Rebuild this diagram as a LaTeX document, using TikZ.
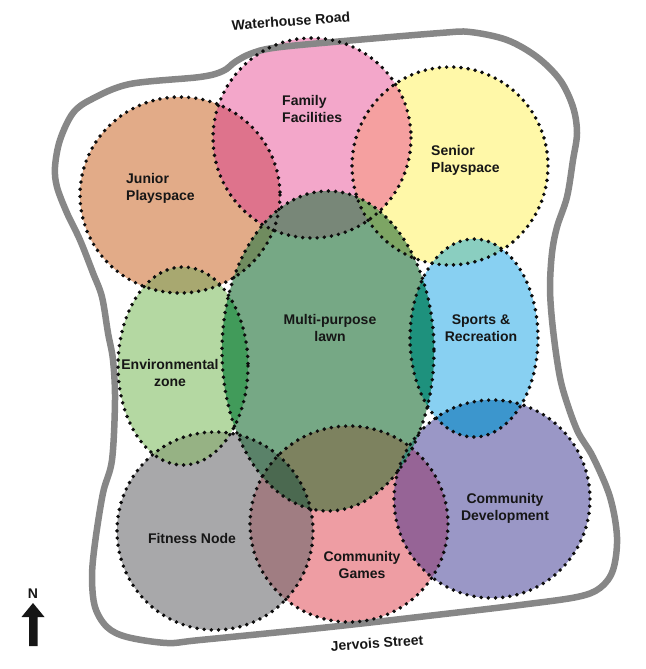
\documentclass[tikz,border=0pt]{standalone}
\usepackage{fontspec}
\setmainfont{Liberation Sans}
\definecolor{cJunior}{RGB}{226,171,136}
\definecolor{cFamily}{RGB}{243,167,202}
\definecolor{cSenior}{RGB}{255,248,168}
\definecolor{cLawn}{RGB}{118,168,133}
\definecolor{cEnv}{RGB}{180,216,162}
\definecolor{cSports}{RGB}{136,208,242}
\definecolor{cFitness}{RGB}{168,168,170}
\definecolor{cGames}{RGB}{238,157,163}
\definecolor{cCommDev}{RGB}{154,151,198}
\definecolor{oJF}{RGB}{222,115,140}
\definecolor{oFS}{RGB}{245,160,160}
\definecolor{oJE}{RGB}{168,168,112}
\definecolor{oJL}{RGB}{112,140,95}
\definecolor{oFL}{RGB}{120,135,120}
\definecolor{oSL}{RGB}{125,165,100}
\definecolor{oSSp}{RGB}{138,206,192}
\definecolor{oEL}{RGB}{65,155,90}
\definecolor{oEF}{RGB}{150,178,132}
\definecolor{oSpL}{RGB}{30,145,125}
\definecolor{oSpC}{RGB}{60,150,205}
\definecolor{oFiL}{RGB}{90,130,105}
\definecolor{oGL}{RGB}{125,130,95}
\definecolor{oCL}{RGB}{65,140,120}
\definecolor{oFiG}{RGB}{160,125,130}
\definecolor{oGC}{RGB}{150,100,150}
\definecolor{oFiGL}{RGB}{75,105,80}
\definecolor{cRoad}{RGB}{135,135,135}
\definecolor{cText}{RGB}{22,22,22}
\definecolor{cDots}{RGB}{12,12,12}
\begin{document}
\begin{tikzpicture}[x=1pt,y=-1pt,
  eJunior/.style={insert path={(180,195) ellipse [x radius=100,y radius=98]}},
  eFamily/.style={insert path={(312,138) ellipse [x radius=99,y radius=100]}},
  eSenior/.style={insert path={(450,166) ellipse [x radius=98,y radius=99]}},
  eEnv/.style={insert path={(183,366) ellipse [x radius=65,y radius=99]}},
  eSports/.style={insert path={(474,338) ellipse [x radius=64,y radius=99]}},
  eFitness/.style={insert path={(215,531) ellipse [x radius=98,y radius=99]}},
  eGames/.style={insert path={(349,524) ellipse [x radius=99,y radius=98]}},
  eCommDev/.style={insert path={(492,499) ellipse [x radius=98,y radius=99]}},
  eLawn/.style={insert path={(328,351) ellipse [x radius=106,y radius=160]}},
  dotline/.style={draw=cDots,line width=3.9pt,dash pattern=on 0pt off 7.2pt,line cap=round},
  road/.style={draw=cRoad,line width=6.5pt,line join=round},
  lbl/.style={font=\fontsize{14}{17}\selectfont\bfseries,text=cText,inner sep=0pt},
  lbll/.style={lbl,align=left,anchor=west},
  lblc/.style={lbl,align=center}]
\useasboundingbox (0,0) rectangle (645,669);
% zone fills
\fill[cJunior,eJunior];
\fill[cFamily,eFamily];
\fill[cSenior,eSenior];
\fill[cEnv,eEnv];
\fill[cSports,eSports];
\fill[cFitness,eFitness];
\fill[cGames,eGames];
\fill[cCommDev,eCommDev];
\fill[cLawn,eLawn];
% overlaps
\begin{scope}\clip[eJunior]; \fill[oJF,eFamily]; \fill[oJE,eEnv]; \fill[oJL,eLawn]; \end{scope}
\begin{scope}\clip[eFamily]; \fill[oFS,eSenior]; \fill[oFL,eLawn]; \end{scope}
\begin{scope}\clip[eSenior]; \fill[oSL,eLawn]; \fill[oSSp,eSports]; \end{scope}
\begin{scope}\clip[eEnv]; \fill[oEL,eLawn]; \fill[oEF,eFitness]; \end{scope}
\begin{scope}\clip[eSports]; \fill[oSpL,eLawn]; \fill[oSpC,eCommDev]; \end{scope}
\begin{scope}\clip[eFitness]; \fill[oFiL,eLawn]; \fill[oFiG,eGames]; \end{scope}
\begin{scope}\clip[eGames]; \fill[oGL,eLawn]; \fill[oGC,eCommDev]; \end{scope}
\begin{scope}\clip[eCommDev]; \fill[oCL,eLawn]; \end{scope}
\begin{scope}\clip[eFitness]; \clip[eGames]; \fill[oFiGL,eLawn]; \end{scope}
% road outline
\draw[road] plot[smooth cycle,tension=0.55] coordinates {(55,167) (60,140) (73,113) (92,99) (130,84) (200,77) (223,71) (235,62) (250,54) (273,48) (333,42) (440,33) (470,32) (507,40) (537,57) (560,80) (573,107) (577,133) (573,160) (567,197) (557,227) (552,253) (550,287) (552,320) (557,360) (563,390) (577,430) (593,457) (610,497) (617,537) (613,570) (600,588) (577,597) (520,605) (453,613) (330,627) (200,640) (167,643) (127,637) (107,627) (95,607) (92,577) (95,543) (103,493) (112,460) (115,400) (113,360) (108,333) (102,297) (93,273) (80,240) (67,213) (57,187)};
% dotted borders
\draw[dotline,eJunior];
\draw[dotline,eFamily];
\draw[dotline,eSenior];
\draw[dotline,eEnv];
\draw[dotline,eSports];
\draw[dotline,eFitness];
\draw[dotline,eGames];
\draw[dotline,eCommDev];
\draw[dotline,eLawn];
% labels
\node[lbll] (tFamily)  at (282,108.5) {Family\\Facilities};
\node[lbll] (tJunior)  at (126,188.5) {Junior\\Playspace};
\node[lbll] (tSenior)  at (431,160.5) {Senior\\Playspace};
\node[lblc] (tLawn)    at (330,328) {Multi-purpose\\lawn};
\node[lblc] (tSports)  at (481,328.5) {Sports \&\\Recreation};
\node[lblc] (tEnv)     at (170,373) {Environmental\\zone};
\node[lblc] (tFitness) at (192,538) {Fitness Node};
\node[lblc] (tGames)   at (362,565) {Community\\Games};
\node[lblc] (tCommDev) at (505,508) {Community\\Development};
\node[lbl,rotate=4] (tWater)  at (291,21) {Waterhouse Road};
\node[lbl,rotate=4] (tJervois) at (377,643) {Jervois Street};
% north arrow
\node[lbl] (tN) at (33,594) {N};
\fill[cText] (33,603) -- (44.5,617) -- (37.5,617) -- (37.5,646) -- (29,646) -- (29,617) -- (21.5,617) -- cycle;
\end{tikzpicture}
\end{document}
